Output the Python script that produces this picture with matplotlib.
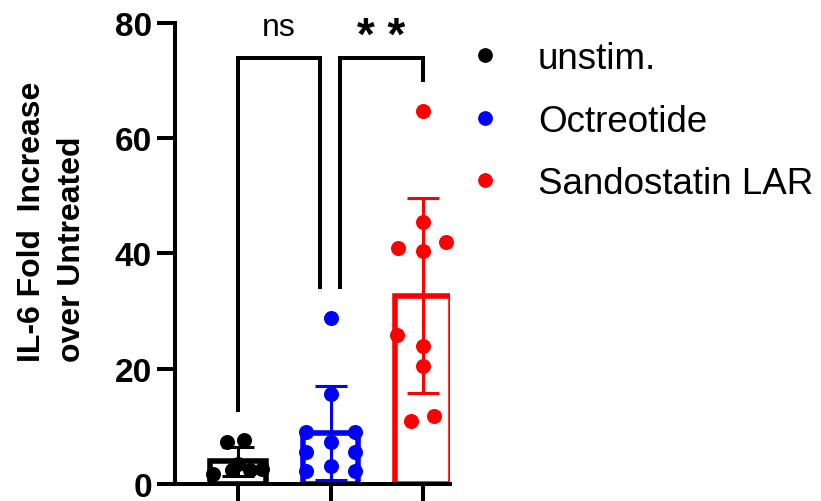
import matplotlib
matplotlib.use("Agg")
import matplotlib.pyplot as plt
import numpy as np
from matplotlib.lines import Line2D

plt.rcParams["font.family"] = ["Liberation Sans", "DejaVu Sans"]

# Groups and colours
groups = ["unstim.", "Octreotide", "Sandostatin LAR"]
colors = ["#000000", "#0000ff", "#ff0000"]

# Individual replicate values (fold increase of IL-6 over untreated)
unstim = [7.2, 7.6, 3.4, 1.7, 2.3, 2.4, 2.5]
octreotide = [28.8, 15.6, 9.0, 9.0, 7.2, 5.5, 5.5, 3.1, 2.2, 2.2]
sandostatin = [64.7, 45.4, 42.0, 40.9, 40.4, 25.8, 23.9, 20.4, 11.8, 10.9]

# Horizontal spread of the replicate dots within each column
unstim_jitter = [-0.12, 0.06, 0.0, -0.27, -0.06, 0.13, 0.26]
octreotide_jitter = [0, 0, -0.26, 0.26, 0, -0.26, 0.26, 0, -0.26, 0.26]
sandostatin_jitter = [0, 0, 0.25, -0.27, 0, -0.28, 0, 0, 0.12, -0.13]

yticks = [0, 20, 40, 60, 80]

# Significance annotations: (left x, right x, left leg end, right leg end, label)
comparisons = [
    (0.0, 0.89, 12.4, 33.8, "ns"),
    (1.10, 2.0, 33.8, 69.7, "* *"),
]
bracket_top = 74.0

data = [unstim, octreotide, sandostatin]
jitters = [unstim_jitter, octreotide_jitter, sandostatin_jitter]
means = [np.mean(v) for v in data]
sds = [np.std(v, ddof=1) for v in data]
xpos = np.arange(len(groups))

fig = plt.figure(figsize=(8.21, 5.02), dpi=100)
ax = fig.add_axes([175 / 821, 17.3 / 502, 275 / 821, 460.7 / 502])

# Open bars showing the mean
ax.bar(xpos, means, width=0.6, fill=False, edgecolor=colors, linewidth=4, zorder=2)

# Mean +/- SD
for i, (m, s, c) in enumerate(zip(means, sds, colors)):
    ax.errorbar(i, m, yerr=s, fmt="none", ecolor=c, elinewidth=2.2,
                capsize=11.5, capthick=2.2, zorder=3)

# Replicates
for i, (vals, jit, c) in enumerate(zip(data, jitters, colors)):
    ax.scatter(i + np.array(jit), vals, s=117, color=c, linewidths=0,
               zorder=4, clip_on=False)

# Significance brackets
for x0, x1, y0, y1, lab in comparisons:
    ax.plot([x0, x0, x1, x1], [y0, bracket_top, bracket_top, y1], color="black",
            lw=2.9, clip_on=False, solid_joinstyle="miter", solid_capstyle="butt")
    if lab == "ns":
        ax.text((x0 + x1) / 2, 77.9, lab, ha="center", va="baseline",
                fontsize=23, clip_on=False)
    else:
        ax.text((x0 + x1) / 2, 75.4, lab, ha="center", va="baseline",
                fontsize=33, fontweight="bold", clip_on=False)

ax.set_xlim(-0.68, 2.29)
ax.set_ylim(0, 80)

for side in ("top", "right"):
    ax.spines[side].set_visible(False)
for side in ("left", "bottom"):
    ax.spines[side].set_linewidth(2.9)

ax.set_yticks(yticks, labels=[str(v) for v in yticks], fontsize=24, fontweight="bold")
ax.set_xticks(xpos, labels=["", "", ""])
ax.tick_params(axis="both", length=13, width=2.9, pad=3.5)

fig.text(52 / 821, 1 - 221.5 / 502, "IL-6 Fold  Increase\nover Untreated",
         rotation=90, ha="center", va="center", multialignment="left",
         fontsize=23, fontweight="bold", linespacing=1.4)

handles = [Line2D([], [], marker="o", ls="none", color=c, markersize=9.6) for c in colors]
fig.legend(handles, groups, loc="upper left", bbox_to_anchor=(466.6 / 821, 0.916),
           frameon=False, fontsize=26.5, handlelength=1.0, handletextpad=0.94,
           labelspacing=0.75, borderpad=0, borderaxespad=0)

fig.savefig("out.png", dpi=100)
